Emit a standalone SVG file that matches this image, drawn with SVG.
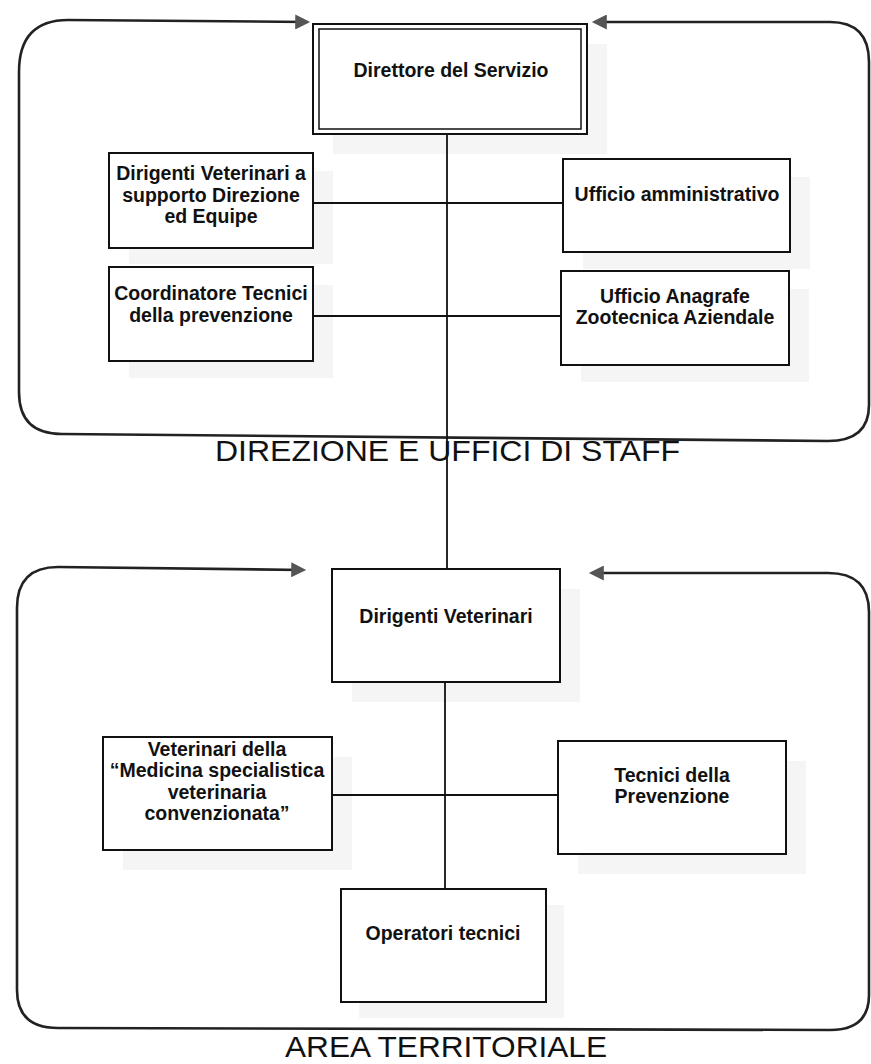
<svg xmlns="http://www.w3.org/2000/svg" width="871" height="1064" viewBox="0 0 871 1064">
<style>
.bg{fill:#ffffff}
.box{fill:#ffffff;stroke:#111;stroke-width:2}
.shadow{fill:#f5f5f5}
.frame{fill:none;stroke:#222;stroke-width:2.6;marker-start:url(#ahs);marker-end:url(#ah)}
.conn{fill:none;stroke:#111;stroke-width:1.8}
.t{font-family:"Liberation Sans",Arial,sans-serif;font-size:19.5px;font-weight:bold;fill:#111;text-anchor:middle}
.lbl{font-family:"Liberation Sans",Arial,sans-serif;font-size:30px;fill:#111}
</style>
<defs>
<marker id="ah" viewBox="0 0 14 14" refX="11" refY="7" markerWidth="17" markerHeight="15" orient="auto" markerUnits="userSpaceOnUse"><path d="M0,0 L14,7 L0,14 z" fill="#555"/></marker>
<marker id="ahs" viewBox="0 0 14 14" refX="11" refY="7" markerWidth="17" markerHeight="15" orient="auto-start-reverse" markerUnits="userSpaceOnUse"><path d="M0,0 L14,7 L0,14 z" fill="#555"/></marker>
</defs>
<rect class="bg" x="0" y="0" width="871" height="1064"/>

<g id="shadows">
<rect class="shadow" x="333" y="44" width="274" height="110"/>
<rect class="shadow" x="129" y="171" width="204" height="93"/>
<rect class="shadow" x="583" y="177" width="227" height="92"/>
<rect class="shadow" x="129" y="285" width="204" height="93"/>
<rect class="shadow" x="581" y="289" width="228" height="93"/>
<rect class="shadow" x="352" y="589" width="228" height="113"/>
<rect class="shadow" x="123" y="757" width="229" height="113"/>
<rect class="shadow" x="578" y="761" width="228" height="113"/>
<rect class="shadow" x="359" y="905" width="205" height="113"/>
</g>

<g id="frames">
<path class="frame" d="M 307,22 L 68,20 Q 19,20 19,72 L 19,392 Q 19,434 62,434 L 828,441 Q 869,441 869,405 L 869,62 Q 869,22 830,22 L 595,22"/>
<path class="frame" d="M 303,570 L 58,567 Q 17,567 17,608 L 17,990 Q 17,1028 58,1028 L 830,1030 Q 869,1030 869,995 L 869,612 Q 869,573 828,573 L 592,573"/>
</g>

<g id="connectors">
<line class="conn" x1="447" y1="134" x2="447" y2="569"/>
<line class="conn" x1="313" y1="203" x2="563" y2="203"/>
<line class="conn" x1="313" y1="316" x2="561" y2="316"/>
<line class="conn" x1="445" y1="682" x2="445" y2="889"/>
<line class="conn" x1="332" y1="795" x2="558" y2="795"/>
</g>

<g id="n-direttore">
<rect class="box" x="313" y="24" width="274" height="110"/>
<rect x="319" y="29" width="262" height="100" fill="none" stroke="#111" stroke-width="1.5"/>
<text class="t" x="451" y="77">Direttore del Servizio</text>
</g>

<g id="n-dirigenti-supporto">
<rect class="box" x="109" y="153" width="204" height="95"/>
<text class="t" x="211" y="180">Dirigenti Veterinari a</text>
<text class="t" x="211" y="202">supporto Direzione</text>
<text class="t" x="211" y="223">ed Equipe</text>
</g>

<g id="n-ufficio-amm">
<rect class="box" x="563" y="159" width="227" height="93"/>
<text class="t" x="677" y="201">Ufficio amministrativo</text>
</g>

<g id="n-coordinatore">
<rect class="box" x="109" y="267" width="204" height="94"/>
<text class="t" x="211" y="300">Coordinatore Tecnici</text>
<text class="t" x="211" y="322">della prevenzione</text>
</g>

<g id="n-anagrafe">
<rect class="box" x="561" y="271" width="228" height="94"/>
<text class="t" x="675" y="303">Ufficio Anagrafe</text>
<text class="t" x="675" y="324">Zootecnica Aziendale</text>
</g>

<g id="lbl-staff">
<text class="lbl" x="215" y="461" textLength="465" lengthAdjust="spacingAndGlyphs">DIREZIONE E UFFICI DI STAFF</text>
</g>

<g id="n-dirigenti-vet">
<rect class="box" x="332" y="569" width="228" height="113"/>
<text class="t" x="446" y="623">Dirigenti Veterinari</text>
</g>

<g id="n-veterinari-conv">
<rect class="box" x="103" y="737" width="229" height="113"/>
<text class="t" x="217" y="756">Veterinari della</text>
<text class="t" x="217" y="777">“Medicina specialistica</text>
<text class="t" x="217" y="799">veterinaria</text>
<text class="t" x="217" y="820">convenzionata”</text>
</g>

<g id="n-tecnici-prev">
<rect class="box" x="558" y="741" width="228" height="113"/>
<text class="t" x="672" y="782">Tecnici della</text>
<text class="t" x="672" y="803">Prevenzione</text>
</g>

<g id="n-operatori">
<rect class="box" x="341" y="889" width="205" height="113"/>
<text class="t" x="443" y="940">Operatori tecnici</text>
</g>

<g id="lbl-area">
<text class="lbl" x="285" y="1057" textLength="322" lengthAdjust="spacingAndGlyphs">AREA TERRITORIALE</text>
</g>
</svg>
